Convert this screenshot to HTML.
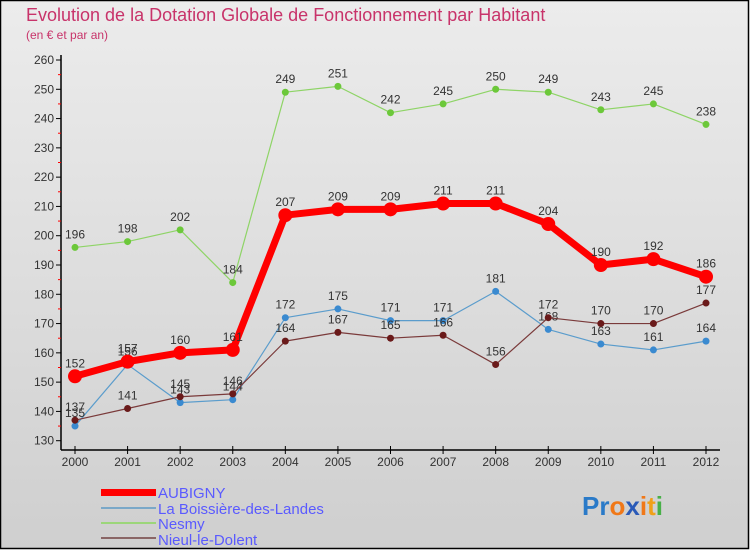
<!DOCTYPE html>
<html><head><meta charset="utf-8"><style>
html,body{margin:0;padding:0;}
body{width:750px;height:550px;overflow:hidden;font-family:"Liberation Sans",sans-serif;}
</style></head><body>
<svg id="chart" width="750" height="550" xmlns="http://www.w3.org/2000/svg" style="display:block">
<defs><linearGradient id="bg" x1="0" y1="0" x2="0" y2="1"><stop offset="0" stop-color="#ececec"/><stop offset="1" stop-color="#cfcfcf"/></linearGradient></defs>
<rect x="0.5" y="0.5" width="748" height="548" fill="url(#bg)" stroke="#000" stroke-width="1.5"/>
<text x="26" y="21" font-size="18" fill="#c8336a">Evolution de la Dotation Globale de Fonctionnement par Habitant</text>
<text x="26" y="39" font-size="12" fill="#c8336a">(en € et par an)</text>
<g id="axes"></g>
<g id="series"></g>
<g id="legend">
<rect x="101" y="489" width="55" height="7" fill="#f00"/>
<text x="158" y="498" font-size="15" fill="#5a5aff">AUBIGNY</text>
<line x1="101" x2="156" y1="508" y2="508" stroke="#7aa8c8" stroke-width="2"/>
<text x="158" y="514" font-size="15" fill="#5a5aff">La Boissière-des-Landes</text>
<line x1="101" x2="156" y1="523" y2="523" stroke="#9cd67a" stroke-width="2"/>
<text x="158" y="529" font-size="15" fill="#5a5aff">Nesmy</text>
<line x1="101" x2="156" y1="538" y2="538" stroke="#8a6666" stroke-width="2"/>
<text x="158" y="545" font-size="15" fill="#5a5aff">Nieul-le-Dolent</text>
</g>
<g font-size="26" font-weight="bold">
<text x="582" y="515"><tspan fill="#2a7ac8">Pr</tspan><tspan fill="#f07818">o</tspan><tspan fill="#2a5ab8">x</tspan><tspan fill="#f07818">i</tspan><tspan fill="#f0a018">t</tspan><tspan fill="#48b048">i</tspan></text>
</g>
</svg>
<script>
const years = [2000,2001,2002,2003,2004,2005,2006,2007,2008,2009,2010,2011,2012];
const aubigny = [152,157,160,161,207,209,209,211,211,204,190,192,186];
const boissiere = [135,156,143,144,172,175,171,171,181,168,163,161,164];
const nesmy = [196,198,202,184,249,251,242,245,250,249,243,245,238];
const nieul = [137,141,145,146,164,167,165,166,156,172,170,170,177];
const yTicks = [130,140,150,160,170,180,190,200,210,220,230,240,250,260];
const NS='http://www.w3.org/2000/svg';
function xs(i){return 75+i*(706-75)/(years.length-1);}
function ys(v){return 440.7-(v-130)*(380.7/130);}
function mk(tag,attrs,parent){const e=document.createElementNS(NS,tag);for(const k in attrs)e.setAttribute(k,attrs[k]);parent.appendChild(e);return e;}
const axes=document.getElementById('axes');
let yl=mk('line',{x1:61,x2:61,y1:55,y2:450,stroke:'#000','stroke-width':1.5},axes);


let xl=mk('line',{x1:61,x2:720,y1:450,y2:450,stroke:'#000','stroke-width':1.5},axes);


yTicks.forEach((t,i)=>{
  mk('line',{x1:56,x2:61,y1:ys(t),y2:ys(t),stroke:'#000'},axes);
  if(i<yTicks.length-1) mk('line',{x1:58,x2:61,y1:ys(t+5),y2:ys(t+5),stroke:'#f00'},axes);
  const tx=mk('text',{x:54,y:ys(t)+4,'font-size':12,'text-anchor':'end',fill:'#333'},axes);
  tx.textContent=t;
  
  
});
years.forEach((yr,i)=>{
  mk('line',{x1:xs(i),x2:xs(i),y1:446,y2:454,stroke:'#000'},axes);
  const tx=mk('text',{x:xs(i),y:466,'font-size':12,'text-anchor':'middle',fill:'#333'},axes);
  tx.textContent=yr;
  
  
});
const series=document.getElementById('series');
function draw(name,vals,color,lw,r,ptColor){
  const g=mk('g',{},series);
  
  
  mk('polyline',{points:vals.map((v,i)=>xs(i)+','+ys(v)).join(' '),fill:'none',stroke:color,'stroke-width':lw,'stroke-linejoin':'round'},g);
  vals.forEach((v,i)=>{
    const c=mk('circle',{cx:xs(i),cy:ys(v),r:r,fill:ptColor},g);
    
    
    const t=mk('text',{x:xs(i),y:ys(v)-9,'font-size':12,'text-anchor':'middle',fill:'#333'},g);
    t.textContent=v;
    
    
  });
}
draw('nesmy',nesmy,'#8ed466',1.2,3.5,'#6cc83a');
draw('boissiere',boissiere,'#5a9ccc',1.2,3.5,'#3a8ad0');
draw('nieul',nieul,'#7a3a3a',1.2,3.5,'#6a1a1a');
draw('aubigny',aubigny,'#f00',7,7,'#f00');
</script>
</body></html>
